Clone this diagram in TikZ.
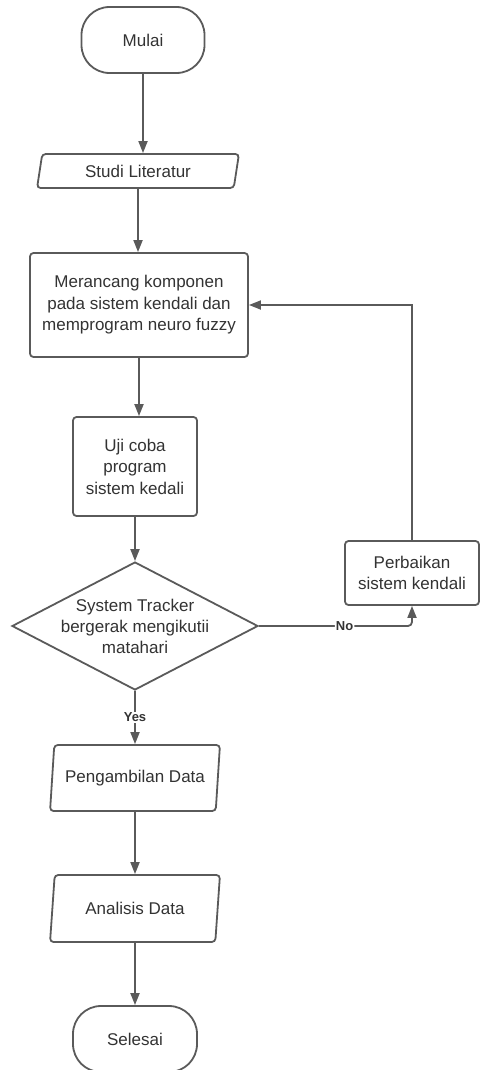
\documentclass[tikz,border=0pt]{standalone}
\usepackage{fontspec}
\setmainfont{Liberation Sans}
\usetikzlibrary{shapes.geometric,arrows.meta}
\definecolor{ln}{HTML}{5A5A5A}
\definecolor{tx}{HTML}{333333}
\tikzset{
  base/.style={draw=ln, line width=1.8pt, fill=white, text=tx, align=center, inner sep=0pt,
               font=\fontsize{17}{21.5}\selectfont},
  term/.style={base, rectangle, rounded corners=28pt},
  proc/.style={base, rectangle, rounded corners=3.5pt},
  io/.style={base, trapezium, trapezium left angle=77, trapezium right angle=103,
             trapezium stretches=true, rounded corners=3.5pt},
  dec/.style={draw=ln, line width=1.8pt, fill=white, diamond, inner sep=0pt},
  dectext/.style={text=tx, align=center, font=\fontsize{17}{21}\selectfont},
  conn/.style={draw=ln, line width=1.8pt, -{Triangle[length=12pt,width=9pt]}},
  lbl/.style={text=tx, fill=white, inner sep=1pt, font=\bfseries\fontsize{13}{15}\selectfont}
}
\begin{document}
\begin{tikzpicture}[x=1pt,y=-1pt]
\useasboundingbox (0,0) rectangle (481,1070);
\node[term, minimum width=123pt, minimum height=66pt] (mu) at (143,40) {Mulai};
\node[io, minimum width=202pt, minimum height=34pt] (st) at (138,171) {Studi Literatur};
\node[proc, minimum width=218pt, minimum height=104pt] (me) at (139,305)
  {Merancang komponen\\pada sistem kendali dan\\memprogram neuro fuzzy};
\node[proc, minimum width=124pt, minimum height=99pt] (uj) at (135,466.5)
  {Uji coba\\program\\sistem kedali};
\node[dec, minimum width=246pt, minimum height=128pt] (dc) at (135,626) {};
\node[dectext] (dct) at (dc.center) {System Tracker\\bergerak mengikutii\\matahari};
\node[proc, minimum width=134pt, minimum height=64pt] (pb) at (412,573)
  {Perbaikan\\sistem kendali};
\node[io, minimum width=170pt, minimum height=66pt] (pd) at (135,778) {Pengambilan Data};
\node[io, minimum width=170pt, minimum height=67pt] (ad) at (135,908.5) {Analisis Data};
\node[term, minimum width=124pt, minimum height=66pt] (se) at (135,1039) {Selesai};

\draw[conn] (mu.south) -- (mu.south |- st.north);
\draw[conn] (st.south) -- (st.south |- me.north);
\draw[conn] (me.south) -- (me.south |- uj.north);
\draw[conn] (uj.south) -- (dc.north);
\draw[conn, rounded corners=4pt] (dc.east) -| (pb.south) node[lbl, pos=0.28] {No};
\draw[conn] (pb.north) |- (me.east);
\draw[conn] (dc.south) -- (pd.north) node[lbl, midway] {Yes};
\draw[conn] (pd.south) -- (ad.north);
\draw[conn] (ad.south) -- (se.north);
\end{tikzpicture}
\end{document}
